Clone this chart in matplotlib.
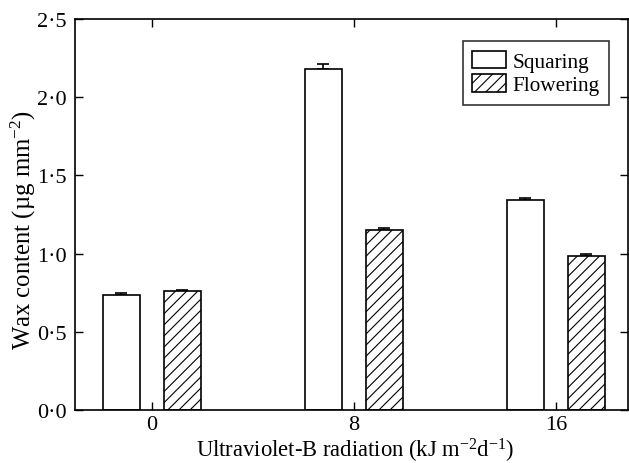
import numpy as np
import matplotlib
matplotlib.use("Agg")
from matplotlib import pyplot as plt
from matplotlib.ticker import FuncFormatter

# data
uvb_doses = [0, 8, 16]
squaring = [0.737, 2.18, 1.345]
squaring_err = [0.010, 0.035, 0.010]
flowering = [0.759, 1.151, 0.987]
flowering_err = [0.010, 0.015, 0.010]

plt.rcParams['font.family'] = ['Liberation Serif', 'DejaVu Serif']
plt.rcParams['mathtext.fontset'] = 'custom'
plt.rcParams['mathtext.rm'] = 'Liberation Serif'
plt.rcParams['mathtext.it'] = 'Liberation Serif:italic'
plt.rcParams['hatch.linewidth'] = 0.8

fig = plt.figure(figsize=(6.29, 4.64), dpi=100)
ax = fig.add_axes([0.119, 0.114, 0.879, 0.843])

x = np.array(uvb_doses, dtype=float)
width = 1.47
off = 1.21

zeros = np.zeros(len(x))
ax.bar(x - off, squaring, width, color='white', edgecolor='black',
       linewidth=1.2, label='Squaring', zorder=2)
ax.bar(x + off, flowering, width, color='white', edgecolor='black',
       linewidth=1.2, hatch='///', label='Flowering', zorder=2)
ax.errorbar(x - off, squaring, yerr=[zeros, squaring_err], fmt='none',
            ecolor='black', elinewidth=1.2, capsize=4.3, capthick=1.2, zorder=1)
ax.errorbar(x + off, flowering, yerr=[zeros, flowering_err], fmt='none',
            ecolor='black', elinewidth=1.2, capsize=4.3, capthick=1.2, zorder=1)

ax.set_xlim(-3.05, 18.85)
ax.set_ylim(0, 2.5)
ax.set_xticks(uvb_doses)
ax.set_yticks([0, 0.5, 1.0, 1.5, 2.0, 2.5])
ax.yaxis.set_major_formatter(FuncFormatter(lambda v, p: ('%.1f' % v).replace('.', '\u00b7')))

ax.tick_params(direction='in', length=5.8, width=1, labelsize=16,
               top=True, right=True, pad=6)
ax.tick_params(axis='x', pad=3.5)
for s in ax.spines.values():
    s.set_linewidth(1.2)

# axis titles placed where the reference has them
fig.text(23 / 629, 1 - 230 / 464, 'Wax content (\u00b5g mm$^{-2}$)', fontsize=17.8,
         rotation=90, ha='center', va='center')
fig.text(355 / 629, 1 - 450.5 / 464, 'Ultraviolet-B radiation (kJ m$^{-2}$d$^{-1}$)',
         fontsize=16.3, ha='center', va='center')

leg = ax.legend(loc='upper right', bbox_to_anchor=(0.978, 0.96), fontsize=15.3,
                frameon=True, fancybox=False, edgecolor='black',
                handlelength=1.6, handleheight=0.9, handletextpad=0.3,
                borderpad=0.45, labelspacing=0.12, borderaxespad=0.3)
leg.get_frame().set_linewidth(1.2)

fig.savefig('out.png', dpi=100)
